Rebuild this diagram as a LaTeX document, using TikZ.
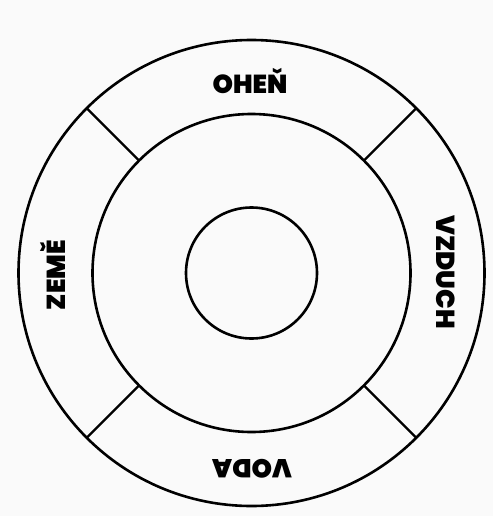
\documentclass[tikz,border=0pt]{standalone}
\usepackage{fontspec}
\newfontfamily\elemfont{Poppins Black}
\tikzset{
  ring/.style={draw=black, line width=2.6pt},
  spoke/.style={draw=black, line width=2.3pt},
  elem/.style={font={\elemfont\fontsize{26}{26}\selectfont}, inner sep=0pt}
}
\begin{document}
\begin{tikzpicture}[x=1pt,y=-1pt]
\useasboundingbox[fill=black!2] (0,0) rectangle (493,516);
\coordinate (mid) at (251.5,273);
% rings
\draw[ring] (mid) circle[radius=233];
\draw[ring] (mid) circle[radius=159];
\draw[ring] (mid) circle[radius=65.5];
% spokes between the two outer rings
\draw[spoke] ([shift={(45:159)}]mid) -- ([shift={(45:233)}]mid);
\draw[spoke] ([shift={(135:159)}]mid) -- ([shift={(135:233)}]mid);
\draw[spoke] ([shift={(225:159)}]mid) -- ([shift={(225:233)}]mid);
\draw[spoke] ([shift={(315:159)}]mid) -- ([shift={(315:233)}]mid);
% elements
\node[elem] (ohen) at (250,81) {OHEŇ};
\node[elem, rotate=-90] (vzduch) at (446,272) {VZDUCH};
\node[elem, rotate=180] (voda) at (252,469) {VODA};
\node[elem, rotate=90] (zeme) at (53,275) {ZEMĚ};
\end{tikzpicture}
\end{document}
